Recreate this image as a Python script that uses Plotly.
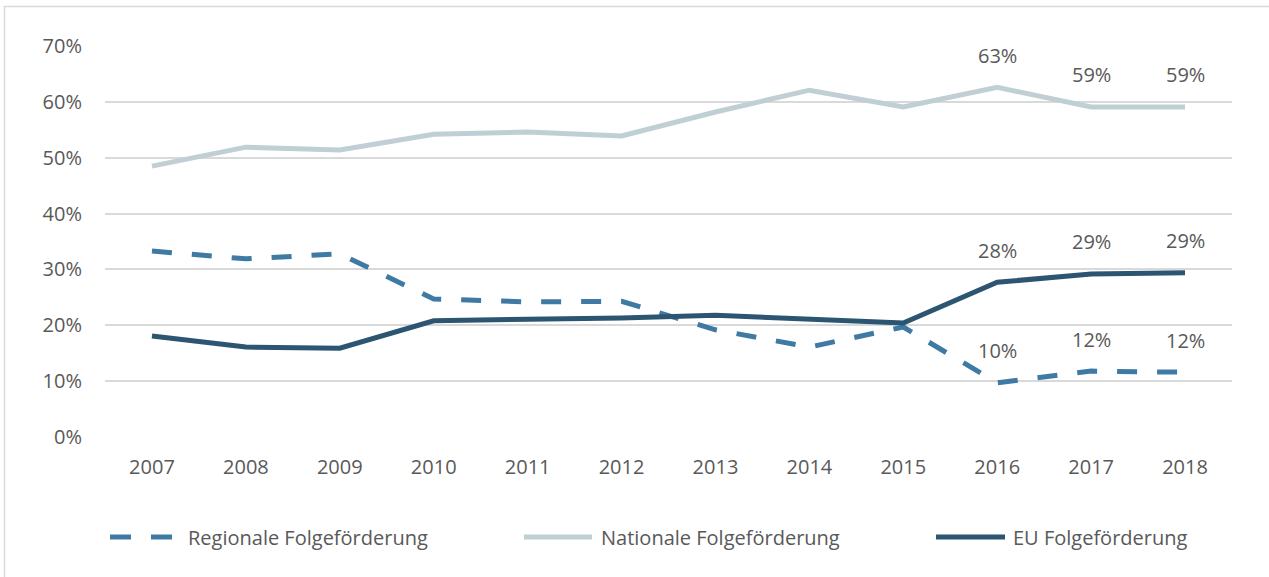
import plotly.graph_objects as go

years = [2007, 2008, 2009, 2010, 2011, 2012, 2013, 2014, 2015, 2016, 2017, 2018]
regional = [0.333, 0.319, 0.328, 0.247, 0.242, 0.243, 0.192, 0.161, 0.197, 0.097, 0.118, 0.116]
national = [0.485, 0.519, 0.514, 0.542, 0.546, 0.539, 0.582, 0.621, 0.591, 0.626, 0.591, 0.591]
eu = [0.181, 0.161, 0.159, 0.208, 0.211, 0.213, 0.218, 0.211, 0.204, 0.277, 0.292, 0.294]
series_names = ["Regionale Folgeförderung", "Nationale Folgeförderung", "EU Folgeförderung"]
label_years = [2016, 2017, 2018]

C_REG = "#3E7AA3"
C_NAT = "#BFCFD4"
C_EU = "#2B5571"
TXT = "#595959"
FONT = "Open Sans"
FS = 20

fig = go.Figure()
fig.add_trace(go.Scatter(x=years, y=regional, mode="lines", name=series_names[0],
                         line=dict(color=C_REG, width=5, dash="20px,20px")))
fig.add_trace(go.Scatter(x=years, y=national, mode="lines", name=series_names[1],
                         line=dict(color=C_NAT, width=5)))
fig.add_trace(go.Scatter(x=years, y=eu, mode="lines", name=series_names[2],
                         line=dict(color=C_EU, width=5)))

# data labels for the last three years
for series in (regional, national, eu):
    for yr in label_years:
        v = series[years.index(yr)]
        fig.add_annotation(x=yr, y=v, xref="x", yref="y", text=f"{round(v*100):d}%",
                           showarrow=False, yshift=32,
                           font=dict(family=FONT, size=FS, color=TXT))

# plot area geometry in pixels (for legend/border placement)
L, R, T, B = 105, 1232, 46, 437
W, H = R - L, B - T
def px(x):
    return (x - L) / W
def py(y):
    return (B - y) / H

# manual legend
leg_y = 537
for x0, x1 in [(110, 131), (151, 172)]:
    fig.add_shape(type="line", xref="paper", yref="paper", x0=px(x0), x1=px(x1),
                  y0=py(leg_y), y1=py(leg_y), line=dict(color=C_REG, width=5))
fig.add_shape(type="line", xref="paper", yref="paper", x0=px(524), x1=px(592),
              y0=py(leg_y), y1=py(leg_y), line=dict(color=C_NAT, width=5))
fig.add_shape(type="line", xref="paper", yref="paper", x0=px(936), x1=px(1005),
              y0=py(leg_y), y1=py(leg_y), line=dict(color=C_EU, width=5))
for x, name in zip([186, 599, 1011], series_names):
    fig.add_annotation(xref="paper", yref="paper", x=px(x), y=py(leg_y), text=name,
                       showarrow=False, xanchor="left", yanchor="middle",
                       font=dict(family=FONT, size=FS, color=TXT))

# outer border (left and top visible)
fig.add_shape(type="rect", xref="paper", yref="paper", x0=px(4.5), x1=px(1300),
              y0=py(6.5), y1=py(620), line=dict(color="#D9D9D9", width=1.5),
              fillcolor="rgba(0,0,0,0)", layer="below")

fig.update_layout(
    width=1269, height=577,
    margin=dict(l=L, r=1269 - R, t=T, b=577 - B),
    paper_bgcolor="white", plot_bgcolor="white",
    showlegend=False,
    font=dict(family=FONT, size=FS, color=TXT),
)
fig.update_xaxes(range=[2006.5, 2018.5], tickmode="array", tickvals=years,
                 ticktext=[str(y) for y in years], showgrid=False, zeroline=False,
                 showline=False, ticks="", ticklabelstandoff=16,
                 tickfont=dict(family=FONT, size=FS, color=TXT))
fig.update_yaxes(range=[0, 0.7001], dtick=0.1, tickformat=".0%", showgrid=True,
                 gridcolor="#D9D9D9", gridwidth=1.5, zeroline=False, showline=False,
                 ticks="", ticklabelstandoff=22,
                 tickfont=dict(family=FONT, size=FS, color=TXT))

fig.write_html("out.html", config={"displayModeBar": False},
               post_script="document.body.style.margin='0px';")
